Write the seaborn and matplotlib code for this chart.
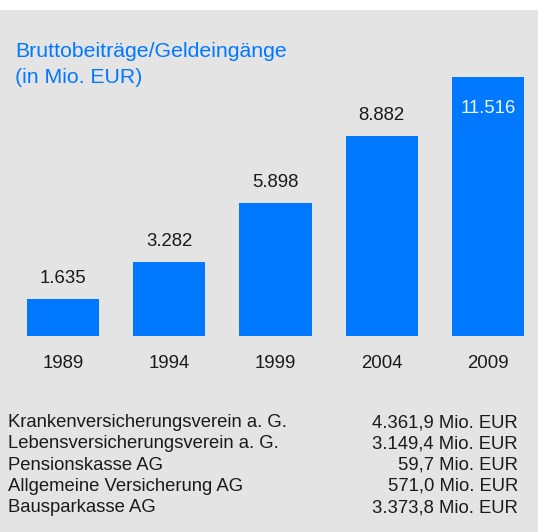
import matplotlib
matplotlib.use('Agg')
import matplotlib.pyplot as plt
import matplotlib.transforms as mtransforms
from matplotlib.patches import Rectangle
import seaborn as sns
import pandas as pd

years = ["1989", "1994", "1999", "2004", "2009"]
values = [1635, 3282, 5898, 8882, 11516]
value_labels = ["1.635", "3.282", "5.898", "8.882", "11.516"]

companies = ["Krankenversicherungsverein a. G.", "Lebensversicherungsverein a. G.",
             "Pensionskasse AG", "Allgemeine Versicherung AG", "Bausparkasse AG"]
amounts = ["4.361,9 Mio. EUR", "3.149,4 Mio. EUR", "59,7 Mio. EUR",
           "571,0 Mio. EUR", "3.373,8 Mio. EUR"]

title = "Bruttobeiträge/Geldeingänge\n(in Mio. EUR)"

blue = "#0078ff"
gray = "#e4e4e4"
dark = "#1a1a1a"

plt.rcParams['font.family'] = ['Liberation Sans', 'DejaVu Sans']

W, H = 541, 532
fig = plt.figure(figsize=(W / 100, H / 100), dpi=100, facecolor='white')
fig.patches.append(Rectangle((0, 0), 538 / W, (H - 10) / H, transform=fig.transFigure,
                             facecolor=gray, edgecolor='none', zorder=-5))

# bar area: x from 10 to 541 px, zero line at y=336, top value at y=77
ax = fig.add_axes([10 / W, (H - 336) / H, 531 / W, 259 / H])
ax.set_facecolor('none')
ax.set_zorder(2)
df = pd.DataFrame({"year": years, "value": values})
sns.barplot(data=df, x="year", y="value", color=blue, saturation=1, width=0.68, ax=ax)
ax.set_xlim(-0.5, 4.5)
ax.set_ylim(0, max(values))
ax.axis('off')

for i, (v, lab) in enumerate(zip(values, value_labels)):
    if i == len(values) - 1:
        tr = mtransforms.offset_copy(ax.transData, fig=fig, y=-36, units='dots')
        ax.text(i, v, lab, transform=tr, ha='center', va='baseline', fontsize=13.4, color='#eef4ff')
    else:
        tr = mtransforms.offset_copy(ax.transData, fig=fig, y=16, units='dots')
        ax.text(i, v, lab, transform=tr, ha='center', va='baseline', fontsize=13.4, color=dark)
    tr = mtransforms.offset_copy(ax.transData, fig=fig, y=-32, units='dots')
    ax.text(i, 0, years[i], transform=tr, ha='center', va='baseline', fontsize=13.4, color=dark)

lines = title.split("\n")
fig.text(15 / W, 1 - 57 / H, lines[0], ha='left', va='baseline', fontsize=15.3, color=blue)
fig.text(15 / W, 1 - 83 / H, lines[1], ha='left', va='baseline', fontsize=15.3, color=blue)

for k, (c, a) in enumerate(zip(companies, amounts)):
    yb = 1 - (427.3 + 21.2 * k) / H
    fig.text(8.5 / W, yb, c, ha='left', va='baseline', fontsize=13.3, color=dark)
    fig.text(518 / W, yb, a, ha='right', va='baseline', fontsize=13.3, color=dark)

fig.savefig("out.png", dpi=100, facecolor='white')
